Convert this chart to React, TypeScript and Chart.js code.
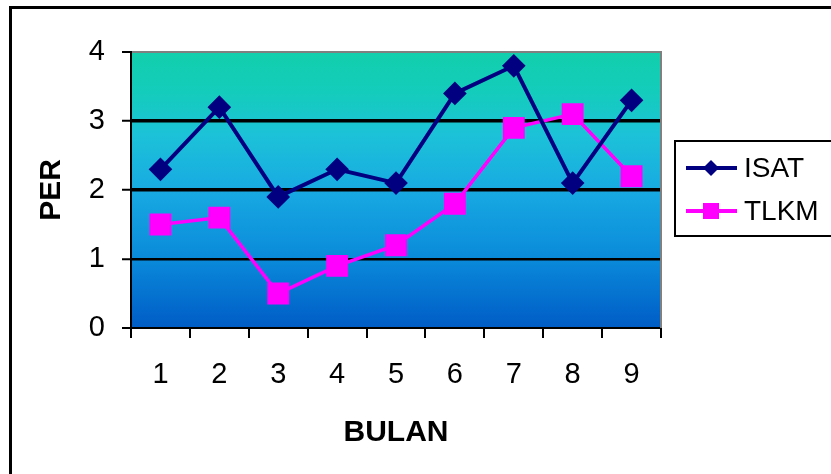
import React, { useEffect, useRef } from "react";
import { Chart, registerables } from "chart.js";

Chart.register(...registerables);

const categories = ["1", "2", "3", "4", "5", "6", "7", "8", "9"];
const isatValues = [2.3, 3.2, 1.9, 2.3, 2.1, 3.4, 3.8, 2.1, 3.3];
const tlkmValues = [1.5, 1.6, 0.5, 0.9, 1.2, 1.8, 2.9, 3.1, 2.2];
const seriesNames = ["ISAT", "TLKM"];
const yTicks = [0, 1, 2, 3, 4];
const xTitle = "BULAN";
const yTitle = "PER";

const FONT = "'Liberation Sans', Arial, sans-serif";

const bgPlugin = {
  id: "plotBg",
  beforeDraw(chart: any) {
    const { ctx, chartArea: a } = chart;
    const g = ctx.createLinearGradient(0, a.top, 0, a.bottom);
    g.addColorStop(0, "#12CFAC");
    g.addColorStop(0.15, "#14CCBC");
    g.addColorStop(0.3, "#1CC2D8");
    g.addColorStop(0.5, "#18AAE2");
    g.addColorStop(0.75, "#0A8ADA");
    g.addColorStop(1, "#005CC6");
    ctx.save();
    ctx.fillStyle = g;
    ctx.fillRect(a.left, a.top, a.right - a.left, a.bottom - a.top);
    ctx.restore();
  },
  beforeDatasetsDraw(chart: any) {
    const { ctx, chartArea: a } = chart;
    ctx.save();
    ctx.strokeStyle = "#808080";
    ctx.lineWidth = 2;
    ctx.beginPath();
    ctx.moveTo(a.right, a.top - 1);
    ctx.lineTo(a.right, a.bottom);
    ctx.stroke();
    ctx.restore();
  },
};

const legendPlugin = {
  id: "boxLegend",
  afterDraw(chart: any) {
    const { ctx } = chart;
    const box = { x: 675, y: 141, w: 160, h: 95 };
    ctx.save();
    ctx.strokeStyle = "#000";
    ctx.lineWidth = 2;
    ctx.strokeRect(box.x, box.y, box.w, box.h);
    const rows = [168, 211];
    chart.data.datasets.forEach((ds: any, i: number) => {
      const y = rows[i];
      ctx.strokeStyle = ds.borderColor;
      ctx.lineWidth = 4;
      ctx.beginPath();
      ctx.moveTo(686, y);
      ctx.lineTo(737, y);
      ctx.stroke();
      ctx.fillStyle = ds.pointBackgroundColor;
      ctx.beginPath();
      if (ds.pointStyle === "rectRot") {
        const r = 8;
        ctx.moveTo(711 - r, y);
        ctx.lineTo(711, y - r);
        ctx.lineTo(711 + r, y);
        ctx.lineTo(711, y + r);
        ctx.closePath();
      } else {
        const s = 8;
        ctx.rect(711 - s, y - s, 2 * s, 2 * s);
      }
      ctx.fill();
      ctx.fillStyle = "#000";
      ctx.font = `28px ${FONT}`;
      ctx.textBaseline = "middle";
      ctx.textAlign = "left";
      ctx.fillText(ds.label, 744, y + 1);
    });
    ctx.restore();
  },
};

export default function App() {
  const ref = useRef<HTMLCanvasElement>(null);

  useEffect(() => {
    if (!ref.current) return;
    const chart = new Chart(ref.current, {
      type: "line",
      data: {
        labels: categories,
        datasets: [
          {
            label: seriesNames[0],
            data: isatValues,
            borderColor: "#000080",
            backgroundColor: "#000080",
            pointBackgroundColor: "#000080",
            pointBorderColor: "#000080",
            borderWidth: 4,
            pointStyle: "rectRot",
            pointRadius: 9,
            pointHoverRadius: 9,
            tension: 0,
          },
          {
            label: seriesNames[1],
            data: tlkmValues,
            borderColor: "#FF00FF",
            backgroundColor: "#FF00FF",
            pointBackgroundColor: "#FF00FF",
            pointBorderColor: "#FF00FF",
            borderWidth: 3.5,
            pointStyle: "rect",
            pointRadius: 13,
            pointHoverRadius: 13,
            tension: 0,
          },
        ],
      },
      options: {
        animation: false,
        responsive: false,
        maintainAspectRatio: false,
        events: [],
        layout: { padding: { left: 0, top: 52, right: 170, bottom: 0 } },
        plugins: {
          legend: { display: false },
          tooltip: { enabled: false },
        },
        scales: {
          x: {
            type: "category",
            offset: true,
            afterFit: (s: any) => {
              s.height = 146;
            },
            grid: {
              offset: true,
              drawOnChartArea: false,
              drawTicks: true,
              tickLength: 10,
              color: "#000",
              lineWidth: 2,
            },
            border: { display: true, color: "#000", width: 2 },
            ticks: {
              color: "#000",
              font: { family: FONT, size: 29 },
              padding: 20,
              maxRotation: 0,
            },
            title: {
              display: true,
              text: xTitle,
              color: "#000",
              font: { family: FONT, size: 30, weight: "bold" },
              padding: { top: 0, bottom: 23 },
            },
          },
          y: {
            min: 0,
            max: 4,
            afterFit: (s: any) => {
              s.width = 131;
            },
            afterBuildTicks: (s: any) => {
              s.ticks = yTicks.map((v) => ({ value: v }));
            },
            grid: {
              drawTicks: true,
              tickLength: 9,
              tickColor: "#000",
              tickWidth: 2,
              color: (c: any) => (c.tick && c.tick.value === 4 ? "#808080" : "#000"),
              lineWidth: (c: any) =>
                c.tick && (c.tick.value === 2 || c.tick.value === 3) ? 3.5 : c.tick && c.tick.value === 1 ? 2.5 : 2,
            },
            border: { display: true, color: "#000", width: 2 },
            ticks: {
              color: "#000",
              font: { family: FONT, size: 29 },
              padding: 17,
            },
            title: {
              display: true,
              text: yTitle,
              color: "#000",
              font: { family: FONT, size: 30, weight: "bold" },
              padding: { top: 34, bottom: 0 },
            },
          },
        },
      },
      plugins: [bgPlugin, legendPlugin],
    });
    return () => chart.destroy();
  }, []);

  return (
    <div
      style={{
        position: "fixed",
        left: 0,
        top: 0,
        width: 831,
        height: 474,
        overflow: "hidden",
        background: "#fff",
      }}
    >
      <div
        style={{
          position: "absolute",
          left: 9,
          top: 6,
          width: 850,
          height: 500,
          border: "3px solid #000",
          boxSizing: "border-box",
        }}
      />
      <canvas
        ref={ref}
        width={831}
        height={474}
        style={{ position: "absolute", left: 0, top: 0, width: 831, height: 474 }}
      />
    </div>
  );
}
